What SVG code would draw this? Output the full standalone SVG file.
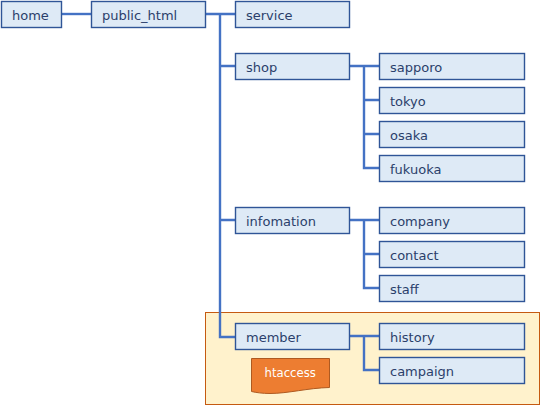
<svg xmlns="http://www.w3.org/2000/svg" width="541" height="406" viewBox="0 0 541 406">
<style>
.n{fill:#deeaf6;stroke:#2f5597;stroke-width:1.4}
.t{font-family:"DejaVu Sans",Verdana,sans-serif;font-size:13px;fill:#2b3f6b}
.c{fill:none;stroke:#4472c4;stroke-width:2.4}
</style>
<rect id="region" x="205.500" y="312.500" width="334" height="92" fill="#fff2cc" stroke="#c55a11" stroke-width="1"/>
<g id="connectors" class="c">
<path d="M61 14H92"/>
<path d="M205 14H236M220 14V337H236M220 66H236M220 220H236"/>
<path d="M349 66H380M364 66V168H380M364 100H380M364 134H380"/>
<path d="M349 220H380M364 220V288H380M364 254H380"/>
<path d="M349 336H380M364 336V370H380"/>
</g>
<g id="home"><rect class="n" x="1.500" y="1.500" width="60" height="26"/><text class="t" x="12" y="20">home</text></g>
<g id="public_html"><rect class="n" x="91.500" y="1.500" width="114" height="26"/><text class="t" x="102" y="20">public_html</text></g>
<g id="service"><rect class="n" x="235.500" y="1.500" width="114" height="26"/><text class="t" x="246" y="20">service</text></g>
<g id="shop"><rect class="n" x="235.500" y="53.500" width="114" height="26"/><text class="t" x="246" y="72">shop</text></g>
<g id="infomation"><rect class="n" x="235.500" y="207.500" width="114" height="26"/><text class="t" x="246" y="226">infomation</text></g>
<g id="member"><rect class="n" x="235.500" y="323.500" width="114" height="26"/><text class="t" x="246" y="342">member</text></g>
<g id="sapporo"><rect class="n" x="379.500" y="53.500" width="145" height="26"/><text class="t" x="390" y="72">sapporo</text></g>
<g id="tokyo"><rect class="n" x="379.500" y="87.500" width="145" height="26"/><text class="t" x="390" y="106">tokyo</text></g>
<g id="osaka"><rect class="n" x="379.500" y="121.500" width="145" height="26"/><text class="t" x="390" y="140">osaka</text></g>
<g id="fukuoka"><rect class="n" x="379.500" y="155.500" width="145" height="26"/><text class="t" x="390" y="174">fukuoka</text></g>
<g id="company"><rect class="n" x="379.500" y="207.500" width="145" height="26"/><text class="t" x="390" y="226">company</text></g>
<g id="contact"><rect class="n" x="379.500" y="241.500" width="145" height="26"/><text class="t" x="390" y="260">contact</text></g>
<g id="staff"><rect class="n" x="379.500" y="275.500" width="145" height="26"/><text class="t" x="390" y="294">staff</text></g>
<g id="history"><rect class="n" x="379.500" y="323.500" width="145" height="26"/><text class="t" x="390" y="342">history</text></g>
<g id="campaign"><rect class="n" x="379.500" y="357.500" width="145" height="26"/><text class="t" x="390" y="376">campaign</text></g>
<g id="htaccess"><path d="M251.500 358.500H329.500V387.500C308 388 288 393.500 270 393.500C262 393.500 256 392.500 251.500 391.500Z" fill="#ed7d31" stroke="#ae5a21" stroke-width="1"/><text x="264.500" y="376.500" font-family="'DejaVu Sans',Verdana,sans-serif" font-size="11.700px" fill="#ffffff">htaccess</text></g>
</svg>
